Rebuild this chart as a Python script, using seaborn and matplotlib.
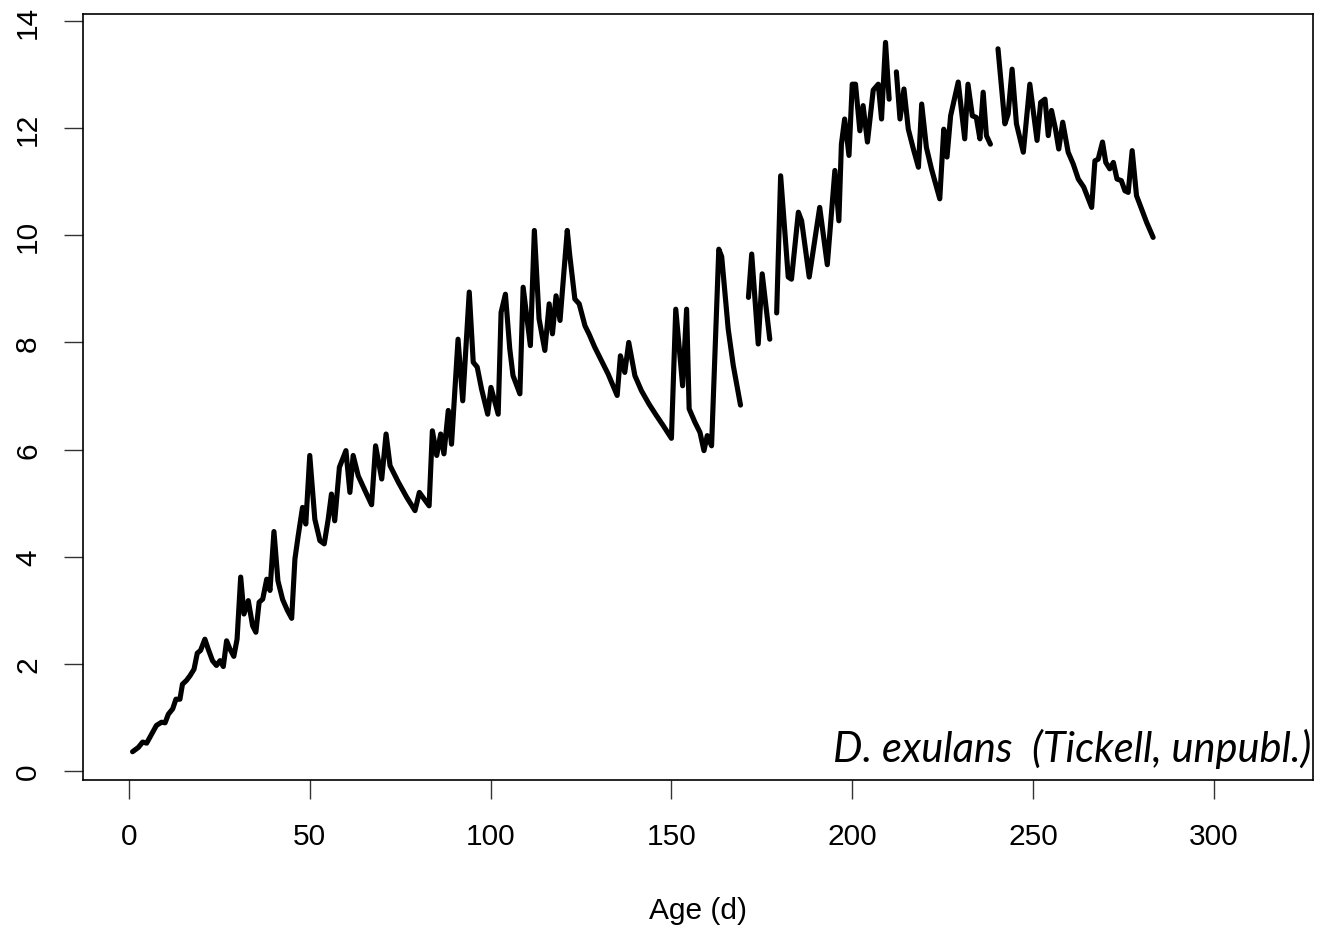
import numpy as np
import pandas as pd
import matplotlib
matplotlib.use("Agg")
import matplotlib.pyplot as plt
import seaborn as sns

# ---- data (age in days, chick mass) ----
age_1 = [1.0, 2.6, 3.8, 4.9, 6.3, 7.6, 9.0, 10.0, 10.9, 12.1, 13.0, 14.1, 14.8, 15.9, 16.9,
         18.0, 18.9, 19.8, 21.0, 21.9, 23.1, 24.2, 25.2, 26.1, 27.0, 27.9, 29.0, 29.9, 30.9,
         31.8, 33.0, 34.2, 35.1, 36.0, 37.0, 38.1, 39.0, 40.1, 41.2, 42.5, 43.8, 45.0, 45.9,
         46.8, 48.0, 48.9, 50.0, 51.4, 52.8, 54.0, 55.1, 56.0, 56.9, 58.2, 60.0, 61.1, 62.0,
         63.4, 65.3, 67.1, 68.2, 69.9, 71.1, 72.2, 74.5, 76.8, 79.1, 80.3, 83.0, 83.9, 85.1,
         86.2, 87.1, 88.3, 89.2, 91.0, 92.3, 94.1, 95.2, 96.3, 97.5, 99.2, 100.1, 102.1, 102.9,
         104.1, 105.3, 106.2, 108.1, 109.0, 111.0, 112.1, 113.4, 115.0, 116.2, 117.1, 118.1,
         119.2, 121.2, 121.9, 123.3, 124.5, 126.1, 127.2, 128.8, 130.2, 132.5, 135.0, 135.9,
         137.1, 138.2, 139.9, 141.7, 143.8, 145.9, 147.7, 150.0, 151.2, 153.1, 154.2, 154.9,
         156.5, 157.9, 159.0, 159.9, 161.1, 163.1, 163.9, 165.7, 167.1, 169.1]
mass_1 = [0.36, 0.44, 0.54, 0.52, 0.69, 0.85, 0.91, 0.90, 1.06, 1.16, 1.34, 1.34, 1.62, 1.69, 1.78,
          1.90, 2.20, 2.25, 2.46, 2.28, 2.06, 1.97, 2.06, 1.95, 2.43, 2.28, 2.14, 2.46, 3.62,
          2.93, 3.18, 2.71, 2.59, 3.15, 3.21, 3.58, 3.37, 4.47, 3.55, 3.20, 3.00, 2.85, 3.96,
          4.39, 4.92, 4.61, 5.89, 4.70, 4.30, 4.24, 4.70, 5.17, 4.67, 5.67, 5.98, 5.20, 5.89,
          5.51, 5.23, 4.97, 6.07, 5.45, 6.29, 5.70, 5.39, 5.11, 4.86, 5.20, 4.95, 6.35, 5.89,
          6.29, 5.92, 6.73, 6.10, 8.06, 6.91, 8.94, 7.63, 7.54, 7.13, 6.66, 7.16, 6.66, 8.56,
          8.90, 7.88, 7.38, 7.04, 9.03, 7.94, 10.09, 8.44, 7.85, 8.72, 8.16, 8.87,
          8.41, 10.09, 9.62, 8.81, 8.72, 8.31, 8.16, 7.91, 7.72, 7.41, 7.01, 7.75,
          7.44, 8.00, 7.38, 7.10, 6.85, 6.63, 6.45, 6.21, 8.62, 7.19, 8.62, 6.76,
          6.51, 6.32, 5.98, 6.26, 6.07, 9.74, 9.60, 8.25, 7.57, 6.83]

age_2 = [171.3, 172.2, 174.0, 175.1, 177.2]
mass_2 = [8.84, 9.65, 7.97, 9.28, 8.06]

age_3 = [179.1, 180.2, 182.3, 183.2, 185.1, 186.0, 188.1, 191.0, 193.1, 195.2, 196.3, 197.0,
         197.9, 199.1, 200.0, 200.9, 202.1, 203.0, 204.2, 205.8, 207.2, 208.1, 209.2, 210.2]
mass_3 = [8.55, 11.11, 9.22, 9.18, 10.43, 10.27, 9.22, 10.52, 9.45, 11.21, 10.27, 11.70,
          12.17, 11.49, 12.82, 12.82, 11.95, 12.42, 11.74, 12.71, 12.82, 12.17, 13.60, 12.54]

age_4 = [212.2, 213.2, 214.3, 215.5, 216.9, 218.3, 219.2, 220.5, 221.9, 224.2, 225.3, 226.2,
         227.2, 229.3, 231.1, 232.0, 233.2, 234.3, 235.3, 236.2, 237.1, 238.2]
mass_4 = [13.05, 12.17, 12.73, 11.98, 11.61, 11.27, 12.45, 11.64, 11.24, 10.68, 11.98, 11.46,
          12.23, 12.86, 11.80, 12.82, 12.23, 12.20, 11.80, 12.67, 11.86, 11.70]

age_5 = [240.3, 242.2, 243.1, 244.2, 245.4, 247.3, 249.1, 251.1, 252.1, 253.3, 254.2, 255.1,
         256.2, 257.1, 258.2, 259.7, 261.1, 262.5, 264.0, 266.2, 267.1, 268.0, 269.2, 270.1,
         271.2, 272.2, 273.2, 274.4, 275.4, 276.3, 277.4, 278.6, 280.0, 281.4, 283.2]
mass_5 = [13.48, 12.08, 12.26, 13.10, 12.08, 11.55, 12.82, 11.77, 12.48, 12.54, 11.86, 12.33,
          11.98, 11.61, 12.11, 11.55, 11.33, 11.05, 10.90, 10.52, 11.39, 11.42, 11.74, 11.36,
          11.24, 11.36, 11.05, 11.02, 10.83, 10.80, 11.58, 10.74, 10.49, 10.24, 9.96]

x_ticks = [0, 50, 100, 150, 200, 250, 300]
y_ticks = [0, 2, 4, 6, 8, 10, 12, 14]
x_label = "Age (d)"
annotation = "D. exulans  (Tickell, unpubl.)"

segments = [(age_1, mass_1), (age_2, mass_2), (age_3, mass_3), (age_4, mass_4), (age_5, mass_5)]
frames = []
for i, (a, m) in enumerate(segments):
    frames.append(pd.DataFrame({"age": a, "mass": m, "segment": i}))
df = pd.concat(frames, ignore_index=True)

# ---- style ----
sns.set_theme(style="white")
plt.rcParams["font.family"] = ["Liberation Sans", "DejaVu Sans"]

W, H = 1332, 929
fig = plt.figure(figsize=(W / 100, H / 100), dpi=100)
ax = fig.add_axes([83 / W, 1 - 781 / H, (1313 - 83) / W, (781 - 15) / H])

sns.lineplot(data=df, x="age", y="mass", units="segment", estimator=None,
             color="black", linewidth=3.7, ax=ax, legend=False)

ax.set_xlim(-12.7, 327.4)
ax.set_ylim(-0.168, 14.13)
ax.set_xticks(x_ticks)
ax.set_yticks(y_ticks)
ax.set_xticklabels([str(t) for t in x_ticks])
ax.set_yticklabels([str(t) for t in y_ticks])

for s in ax.spines.values():
    s.set_visible(True)
    s.set_color("black")
    s.set_linewidth(1.2)

ax.tick_params(axis="both", which="major", direction="out", length=13.5, width=1.0,
               color="#333333", labelsize=21.5, labelcolor="black", bottom=True, left=True)
ax.tick_params(axis="x", pad=17)
ax.tick_params(axis="y", pad=16, labelrotation=90)
for lab in ax.get_yticklabels():
    lab.set_va("center")

ax.set_xlabel(x_label, fontsize=21.5, labelpad=33, color="black")
ax.set_ylabel("")

ax.text(0.9985, 0.025, annotation, transform=ax.transAxes, ha="right", va="baseline",
        fontsize=30, style="italic", family=["Lato", "DejaVu Sans"], color="black")

fig.savefig("out.png", dpi=100)
